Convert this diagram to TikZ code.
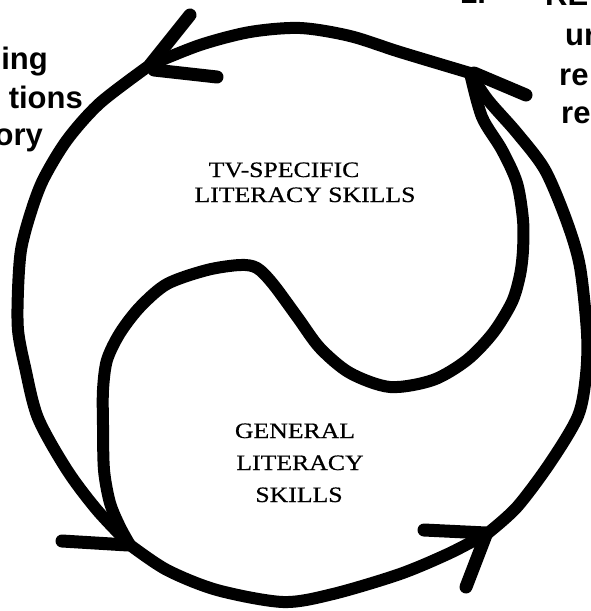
\documentclass[tikz,border=0pt]{standalone}
\usepackage{fontspec}
\setmainfont{Liberation Serif}
\newfontfamily\labelfont[FakeStretch=1.17,FakeBold=0.6]{Liberation Serif}
\newfontfamily\sidefont{Liberation Sans}
\tikzset{
  ink/.style={line width=12pt, line cap=round, line join=round},
  barb/.style={line width=13pt, line cap=round},
  inlabel/.style={font=\labelfont\fontsize{22}{26}\selectfont, inner sep=0pt, anchor=base},
  sideL/.style={font=\sidefont\bfseries\fontsize{31}{37}\selectfont, inner sep=0pt, anchor=base east},
  sideR/.style={font=\sidefont\bfseries\fontsize{31}{37}\selectfont, inner sep=0pt, anchor=base west}
}
\begin{document}
\begin{tikzpicture}[x=1pt,y=-1pt]
\useasboundingbox (0,0) rectangle (591,611);
\clip (0,0) rectangle (591,611);
% arrow vertices
\coordinate (tl) at (150,65);
\coordinate (tr) at (470,73);
\coordinate (bl) at (130,545);
\coordinate (br) at (488,533);
% outer circle
\draw[ink] plot[smooth] coordinates {(tr) (400,52) (350,36) (300,28) (250,32) (200,45) (tl)};
\draw[ink] plot[smooth] coordinates {(tl) (100,103) (67,140) (43,180) (30,215) (21,250) (18,290) (18,330) (25,367) (38,418) (67,470) (97,510) (bl)};
\draw[ink] plot[smooth] coordinates {(bl) (167,570) (217,590) (283,602) (333,594) (400,574) (450,553) (br)};
\draw[ink] plot[smooth] coordinates {(br) (517,507) (550,463) (578,416) (586,375) (587,333) (580,267) (567,222) (545,170) (517,133) (488,100) (tr)};
% S curve
\draw[ink] plot[smooth] coordinates {(tr) (482,117) (502,150) (517,183) (523,220) (523,250) (520,275) (512,302) (493,333) (467,360) (433,380) (390,387) (350,373) (320,348) (298,318) (273,284) (257,268) (240,265) (207,270) (167,284) (140,307) (120,333) (107,360) (103,390) (103,425) (104,470) (110,503) (120,527) (bl)};
% arrow barbs
\coordinate (tlA) at (190,15);
\coordinate (tlB) at (217,77);
\coordinate (trA) at (526,95);
\coordinate (blA) at (62,541);
\coordinate (brA) at (424,530);
\coordinate (brB) at (466,587);
\draw[barb] (tl) -- (tlA);
\draw[barb] ([xshift=4pt,yshift=-5pt]tl) -- (tlB);
\draw[barb] ([xshift=4pt]tr) -- (trA);
\draw[barb] ([xshift=-2pt]bl) -- (blA);
\draw[barb] ([xshift=-2pt]br) -- (brA);
\draw[barb] ([xshift=-2pt,yshift=-2pt]br) -- (brB);
% inner labels
\node[inlabel] (tv1) at (284,177) {TV-SPECIFIC};
\node[inlabel] (tv2) at (305,202) {LITERACY SKILLS};
\node[inlabel] (g1) at (295,438) {GENERAL};
\node[inlabel] (g2) at (300,470) {LITERACY};
\node[inlabel] (g3) at (299,502) {SKILLS};
% cut-off side texts
\node[sideL] (l1) at (48,69) {ing};
\node[sideL] (l2) at (83,108) {tions};
\node[sideL] (l3) at (43,145) {ory};
\node[sideR] (r0) at (460,3) {1.};
\node[sideR] (r1) at (545,5) {RE};
\node[sideR] (r2) at (565,45) {ur};
\node[sideR] (r3) at (559,85) {re};
\node[sideR] (r4) at (561,123) {re};
\end{tikzpicture}
\end{document}
